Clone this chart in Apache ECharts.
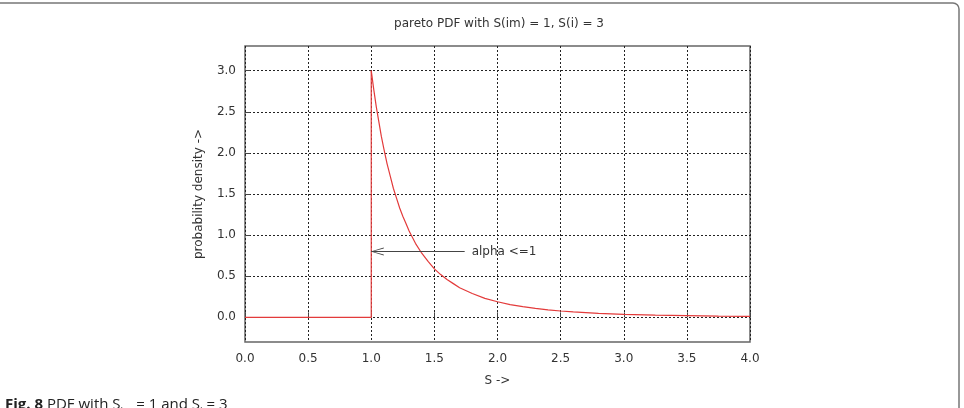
<!DOCTYPE html>
<html>
<head>
<meta charset="utf-8">
<script src="https://cdn.jsdelivr.net/npm/echarts@6.0.0/dist/echarts.min.js"></script>
<style>
  html, body { margin: 0; padding: 0; background: #fff; }
  #chart { width: 964px; height: 408px; }
</style>
</head>
<body>
<div id="chart"></div>
<script>
// values
const stepX = [0.0, 1.0, 1.0];
const stepY = [0.0, 0.0, 3.0];
const curveX = [1.0, 1.02, 1.04, 1.06, 1.08, 1.1, 1.125, 1.15, 1.175, 1.2, 1.225, 1.25, 1.275, 1.3, 1.35, 1.4,
    1.45, 1.5, 1.55, 1.6, 1.65, 1.7, 1.8, 1.9, 2.0, 2.1, 2.2, 2.3, 2.4, 2.5, 2.6, 2.8, 3.0, 3.25, 3.5, 3.75, 4.0];
const curveY = [3.0, 2.77, 2.56, 2.38, 2.2, 2.05, 1.87, 1.72, 1.57, 1.45, 1.33, 1.23, 1.14, 1.05, 0.9, 0.78,
    0.68, 0.59, 0.52, 0.46, 0.41, 0.36, 0.29, 0.23, 0.19, 0.155, 0.13, 0.108, 0.09, 0.077, 0.066, 0.049, 0.037,
    0.027, 0.02, 0.015, 0.012];
const yTicks = [0.0, 0.5, 1.0, 1.5, 2.0, 2.5, 3.0];
const arrowFrom = [1.74, 0.8];
const arrowTo = [1.0, 0.8];
const arrowText = "alpha <=1";

const zip = (xs, ys) => xs.map((x, i) => [x, ys[i]]);

const red = '#e33b3b';
const font = '"DejaVu Sans"';
const gridLine = {show: true, lineStyle: {color: '#222', type: [2, 2], width: 1}};
// thin open chevron pointing along the line
const chevron = 'path://M0,0 L8,20 L6,20 L0,3 L-6,20 L-8,20 Z';

const chart = echarts.init(document.getElementById('chart'), null, {renderer: 'canvas'});
chart.setOption({
    animation: false,
    backgroundColor: '#fff',
    textStyle: {fontFamily: font},
    title: {
        text: 'pareto PDF with S(im) = 1, S(i) = 3',
        left: 494,
        top: 13,
        textAlign: 'center',
        textStyle: {fontFamily: font, fontSize: 12, fontWeight: 'normal', color: '#333'}
    },
    grid: {
        left: 245, right: 214, top: 46, bottom: 66,
        show: true, borderColor: '#666', borderWidth: 1.5, backgroundColor: 'transparent'
    },
    xAxis: {
        type: 'value', min: 0, max: 4, interval: 0.5,
        name: 'S ->', nameLocation: 'middle', nameGap: 33,
        nameTextStyle: {fontFamily: font, fontSize: 12, color: '#333'},
        axisLine: {show: false},
        axisTick: {show: true, inside: true, length: 5, lineStyle: {color: '#444'}},
        axisLabel: {margin: 11, fontFamily: font, fontSize: 12, color: '#333',
            formatter: v => v.toFixed(1)},
        splitLine: gridLine
    },
    yAxis: {
        type: 'value', min: -0.3, max: 3.3,
        name: 'probability density ->', nameLocation: 'middle', nameGap: 40, nameRotate: 90,
        nameTextStyle: {fontFamily: font, fontSize: 12, color: '#333'},
        axisLine: {show: false},
        axisTick: {show: true, inside: true, length: 5, customValues: yTicks, lineStyle: {color: '#444'}},
        axisLabel: {margin: 9, fontFamily: font, fontSize: 12, color: '#333', customValues: yTicks,
            formatter: v => v.toFixed(1)},
        splitLine: gridLine
    },
    series: [
        {
            type: 'line', data: zip(stepX, stepY), showSymbol: false, silent: true,
            lineStyle: {color: red, width: 1.2}
        },
        {
            type: 'line', data: zip(curveX, curveY), showSymbol: false, silent: true,
            lineStyle: {color: red, width: 1.2},
            markLine: {
                silent: true,
                symbol: ['none', chevron],
                symbolSize: [8, 13],
                symbolOffset: [[0, 0], [0, 6]],
                lineStyle: {color: '#444', width: 1, type: 'solid'},
                label: {show: true, position: 'start', distance: 7, formatter: arrowText,
                    fontFamily: font, fontSize: 12, color: '#333'},
                data: [[{coord: arrowFrom}, {coord: arrowTo}]]
            }
        }
    ],
    graphic: [
        {
            type: 'rect', silent: true,
            shape: {x: -10, y: 3, width: 969, height: 430, r: [0, 6, 0, 0]},
            style: {fill: 'none', stroke: '#777', lineWidth: 1.5}
        },
        {
            type: 'text', left: 5, top: 397, silent: true,
            style: {
                text: '{b|Fig. 8} PDF with S{s|im} = 1 and S{s|i} = 3',
                font: '15px "Open Sans"', fill: '#222',
                rich: {
                    b: {fontFamily: 'Open Sans', fontSize: 15, fontWeight: 'bold', fill: '#222'},
                    s: {fontFamily: 'Open Sans', fontSize: 10, fill: '#222', padding: [16, 0, 0, 0]}
                }
            }
        }
    ]
});
</script>
</body>
</html>
